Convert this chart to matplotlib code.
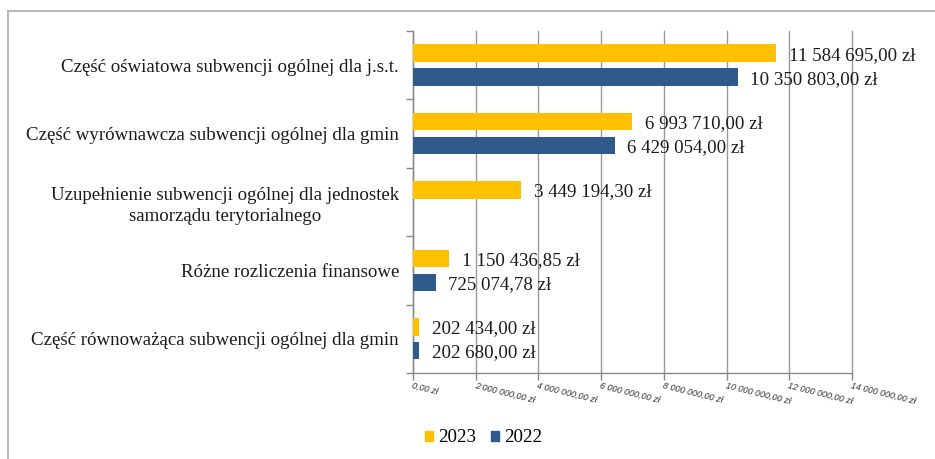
import matplotlib
matplotlib.use("Agg")
import matplotlib.pyplot as plt
import numpy as np
from matplotlib.lines import Line2D
from matplotlib.patches import Patch

categories = [
    "Część oświatowa subwencji ogólnej dla j.s.t.",
    "Część wyrównawcza subwencji ogólnej dla gmin",
    "Uzupełnienie subwencji ogólnej dla jednostek\nsamorządu terytorialnego",
    "Różne rozliczenia finansowe",
    "Część równoważąca subwencji ogólnej dla gmin",
]
values_2023 = [11584695.00, 6993710.00, 3449194.30, 1150436.85, 202434.00]
values_2022 = [10350803.00, 6429054.00, None, 725074.78, 202680.00]
labels_2023 = ["11 584 695,00 zł", "6 993 710,00 zł", "3 449 194,30 zł", "1 150 436,85 zł", "202 434,00 zł"]
labels_2022 = ["10 350 803,00 zł", "6 429 054,00 zł", None, "725 074,78 zł", "202 680,00 zł"]
xticks = [0, 2000000, 4000000, 6000000, 8000000, 10000000, 12000000, 14000000]
xtick_labels = ["0,00 zł", "2 000 000,00 zł", "4 000 000,00 zł", "6 000 000,00 zł",
                "8 000 000,00 zł", "10 000 000,00 zł", "12 000 000,00 zł", "14 000 000,00 zł"]

C2023 = "#FFC000"
C2022 = "#2F5B8A"
SERIF = ["Liberation Serif", "DejaVu Serif"]
FS = 13.6

fig = plt.figure(figsize=(9.35, 4.59), dpi=100)
ax = fig.add_axes([0.4417, 0.1874, 0.4695, 0.7451])

n = len(categories)
y = np.arange(n)
h = 0.255
off = 0.175
for i in range(n):
    ax.barh(y[i] - off, values_2023[i], height=h, color=C2023, zorder=3)
    ax.text(values_2023[i] + 400000, y[i] - off + 0.03, labels_2023[i], va="center", ha="left",
            fontsize=FS, family=SERIF, color="#1a1a1a", zorder=4)
    if values_2022[i] is not None:
        ax.barh(y[i] + off, values_2022[i], height=h, color=C2022, zorder=3)
        ax.text(values_2022[i] + 400000, y[i] + off + 0.03, labels_2022[i], va="center", ha="left",
                fontsize=FS, family=SERIF, color="#1a1a1a", zorder=4)

ax.set_ylim(n - 0.5, -0.5)
ax.set_xlim(0, 14000000)
ax.set_xticks(xticks)
ax.set_xticklabels(xtick_labels, rotation=-14, ha="left", va="top", rotation_mode="anchor",
                   fontsize=6.5, fontstyle="italic", color="#333333", family="Liberation Sans")
ax.set_yticks(y)
ax.set_yticklabels(categories, fontsize=FS, family=SERIF, color="#1a1a1a",
                   multialignment="center", linespacing=1.3)
ax.set_yticks(np.arange(-0.5, n, 1.0), minor=True)
ax.tick_params(axis="y", which="major", length=0, pad=10)
ax.tick_params(axis="y", which="minor", length=5, color="#888888", width=1)
ax.tick_params(axis="x", which="major", length=5, color="#888888", width=1, pad=1)

ax.grid(axis="x", color="#999999", linewidth=1, zorder=0)
for gl in ax.get_xgridlines():
    gl.set_clip_on(False)
for s in ["top", "right"]:
    ax.spines[s].set_visible(False)
ax.spines["left"].set_color("#888888")
ax.spines["bottom"].set_color("#888888")
ax.spines["left"].set_linewidth(1)
ax.spines["bottom"].set_linewidth(1)

handles = [Patch(color=C2023, label="2023"), Patch(color=C2022, label="2022")]
fig.legend(handles=handles, loc="center left", bbox_to_anchor=(0.4545, 0.046), ncol=2,
           frameon=False, prop={"family": SERIF, "size": FS}, handlelength=0.42,
           handleheight=0.42, handletextpad=0.27, columnspacing=0.8, borderpad=0, borderaxespad=0)

# outer frame (top and left)
fig.add_artist(Line2D([8/935, 1], [1 - 11/459, 1 - 11/459], transform=fig.transFigure,
                      color="#aaaaaa", linewidth=1.2))
fig.add_artist(Line2D([8/935, 8/935], [0, 1 - 11/459], transform=fig.transFigure,
                      color="#aaaaaa", linewidth=1.2))

fig.savefig("out.png", dpi=100)
